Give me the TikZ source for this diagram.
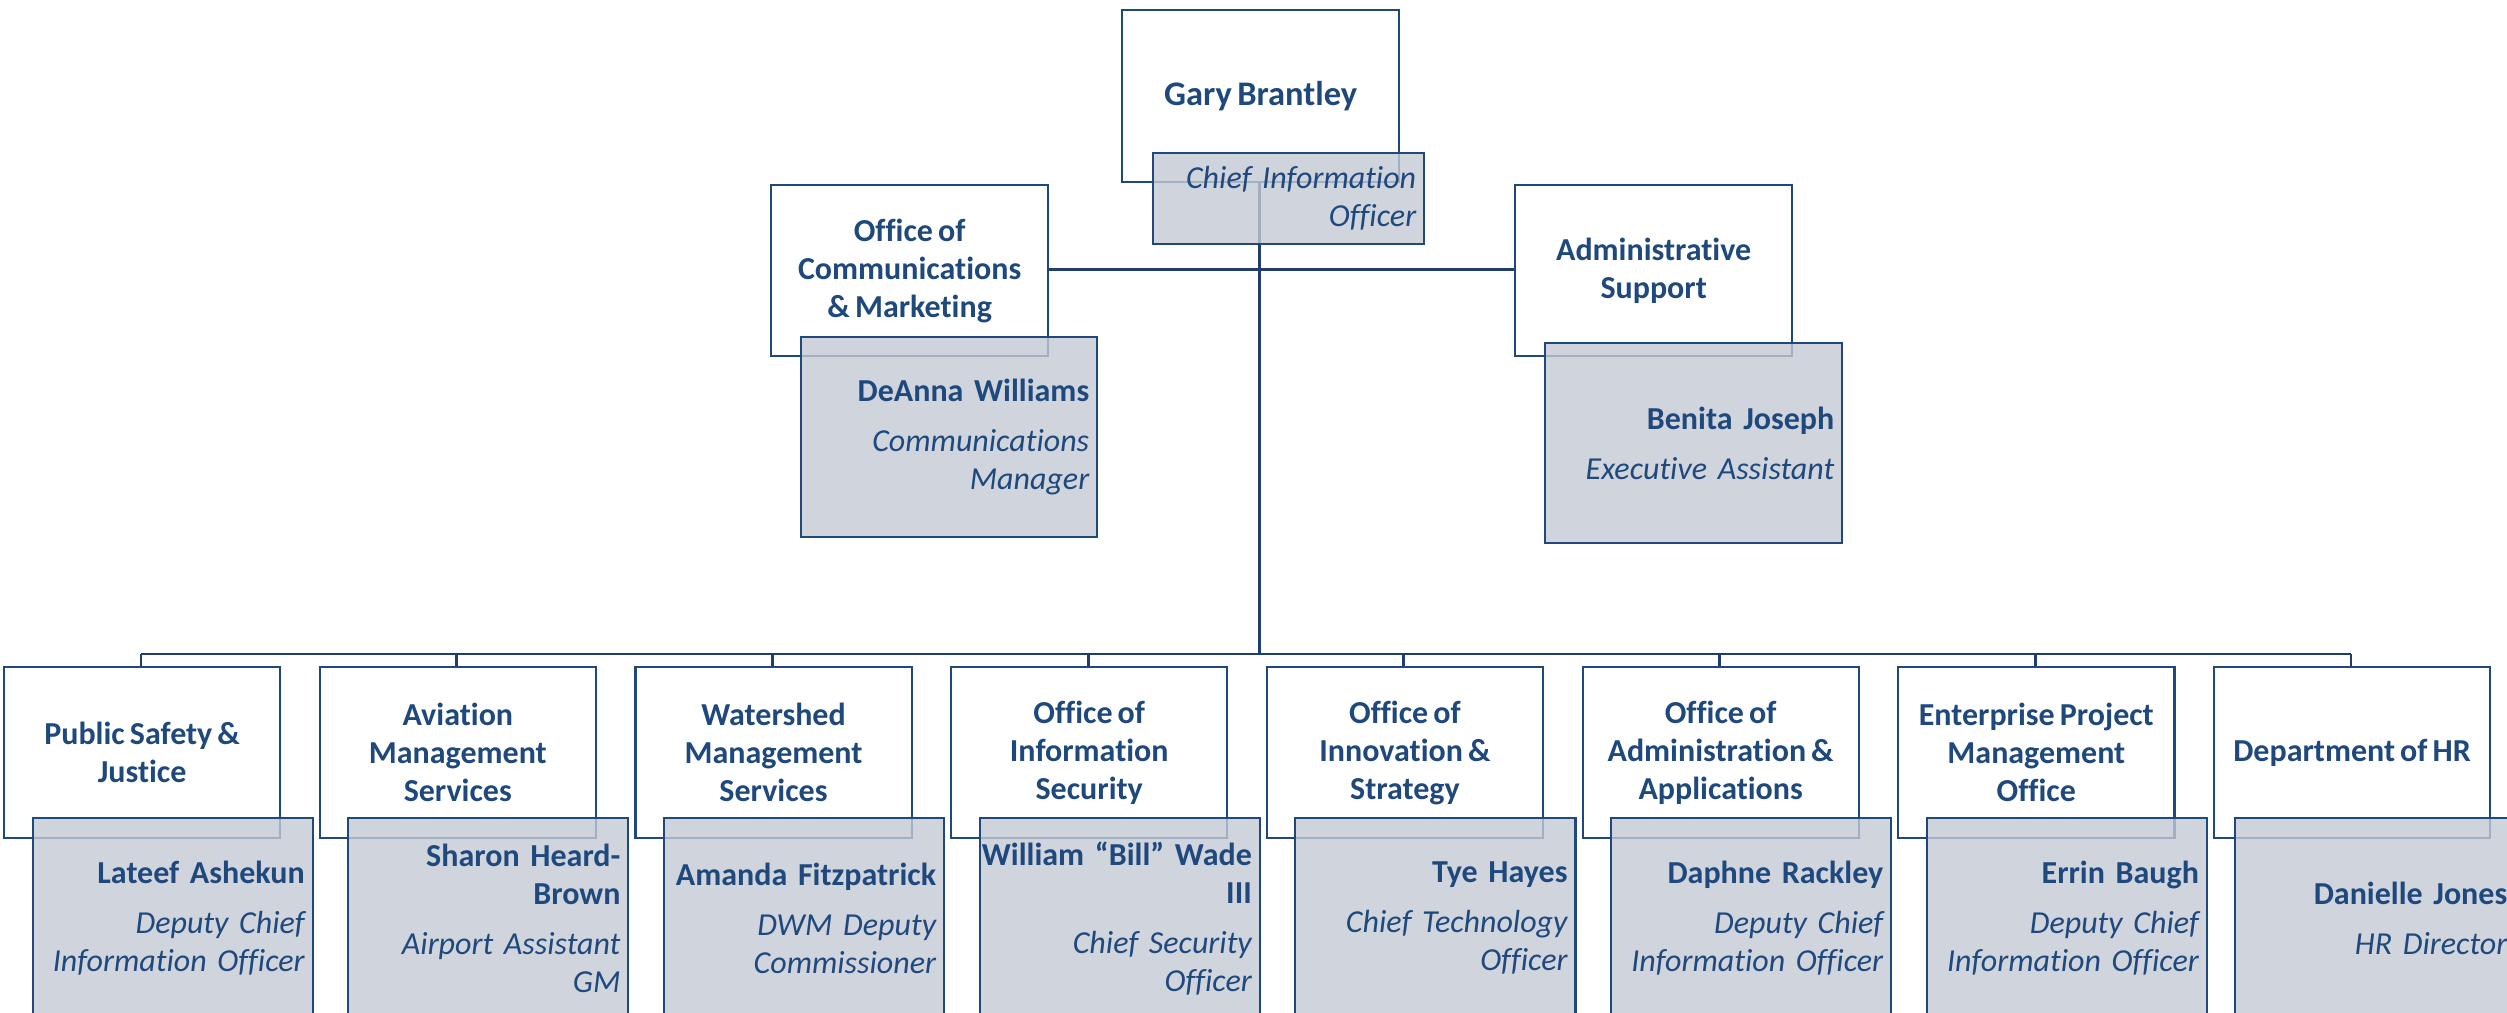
\documentclass[tikz,border=0pt]{standalone}
\usepackage{fontspec}
\setmainfont{Carlito}[Ligatures=NoCommon, WordSpace=0.7]
\usepackage{xcolor}
\usepackage{tikz}

\definecolor{cioblue}{HTML}{1F497D}
\definecolor{linkblue}{HTML}{1F3D6E}
\definecolor{cardgray}{HTML}{C4C9D4}
\newcommand{\chartfont}{\fontsize{9.1}{10.8}\selectfont}
\newcommand{\who}[2]{\textbf{#1}\\[3.4pt]{\itshape #2}}

\tikzset{
  unitbox/.style={draw=cioblue, line width=0.6pt, fill=white, anchor=north west,
    minimum width=2.76cm, minimum height=1.71cm, inner sep=0pt, align=center,
    text=cioblue, font=\chartfont\bfseries},
  personbox/.style={draw=cioblue, line width=0.6pt, fill=cardgray, fill opacity=0.8,
    text opacity=1, anchor=north west, minimum height=2cm, inner xsep=0.08cm,
    inner ysep=0pt, text width=2.64cm, align=right, text=cioblue, font=\chartfont},
  link/.style={draw=linkblue, line width=0.8pt},
}

\begin{document}
\begin{tikzpicture}[x=0.01cm, y=-0.01cm]
    \clip (0,0) rectangle (2507,1012);

    % top of the chart
    \coordinate (bus) at (1259.5,654);
    \draw [link] (1259.5,181) -- (bus);
    \draw [link] (1047,269.5) -- (1514,269.5);

    \node [unitbox, minimum width=2.77cm, minimum height=1.72cm,
        font=\fontsize{9.8}{11.6}\selectfont\bfseries] (gary) at (1121,9) {Gary Brantley};
    \node [unitbox, minimum width=2.77cm] (comm) at (770,184) {Office of\\Communications\\\& Marketing};
    \node [unitbox, minimum width=2.77cm] (admin) at (1514,184) {Administrative\\Support};

    \node [personbox, minimum height=0.91cm, text width=2.55cm] (garyp) at (1152,152)
        {\itshape Chief Information\\Officer};
    \node [personbox, text width=2.8cm] (commp) at (800,336)
        {\who{DeAnna Williams}{Communications\\Manager}};
    \node [personbox, text width=2.81cm] (adminp) at (1544,342)
        {\who{Benita Joseph}{Executive Assistant}};

    % bus to the departments
    \coordinate (busL) at (141,654);
    \coordinate (busR) at (2351,654);
    \draw [link] (busL) -- (busR);
    \draw [link] (busL) -- (141,666);
    \draw [link] (456.7,654) -- (456.7,666);
    \draw [link] (772.4,654) -- (772.4,666);
    \draw [link] (1088.1,654) -- (1088.1,666);
    \draw [link] (1403.8,654) -- (1403.8,666);
    \draw [link] (1719.5,654) -- (1719.5,666);
    \draw [link] (2035.2,654) -- (2035.2,666);
    \draw [link] (busR) -- (2351,666);

    % departments
    \node [unitbox] (psj) at (3,666) {Public Safety \&\\Justice};
    \node [unitbox] (ams) at (318.7,666) {Aviation\\Management\\Services};
    \node [unitbox] (wms) at (634.4,666) {Watershed\\Management\\Services};
    \node [unitbox] (ois) at (950.1,666) {Office of\\Information\\Security};
    \node [unitbox] (oin) at (1265.8,666) {Office of\\Innovation \&\\Strategy};
    \node [unitbox] (oaa) at (1581.5,666) {Office of\\Administration \&\\Applications};
    \node [unitbox] (epmo) at (1897.2,666) {Enterprise Project\\Management\\Office};
    \node [unitbox] (hr) at (2212.9,666) {Department of HR};

    % heads of the departments
    \node [personbox] (psjp) at (31.5,817) {\who{Lateef Ashekun}{Deputy Chief\\Information Officer}};
    \node [personbox] (amsp) at (347.2,817) {\who{Sharon Heard-\\Brown}{Airport Assistant\\GM}};
    \node [personbox] (wmsp) at (662.9,817) {\who{Amanda Fitzpatrick}{DWM Deputy\\Commissioner}};
    \node [personbox] (oisp) at (978.6,817) {\who{\makebox[0pt][r]{William “Bill” Wade}\\III}{Chief Security\\Officer}};
    \node [personbox] (oinp) at (1294.3,817) {\who{Tye Hayes}{Chief Technology\\Officer}};
    \node [personbox] (oaap) at (1610,817) {\who{Daphne Rackley}{Deputy Chief\\Information Officer}};
    \node [personbox] (epmop) at (1925.7,817) {\who{Errin Baugh}{Deputy Chief\\Information Officer}};
    \node [personbox] (hrp) at (2234,817) {\who{Danielle Jones}{HR Director}};
\end{tikzpicture}
\end{document}
